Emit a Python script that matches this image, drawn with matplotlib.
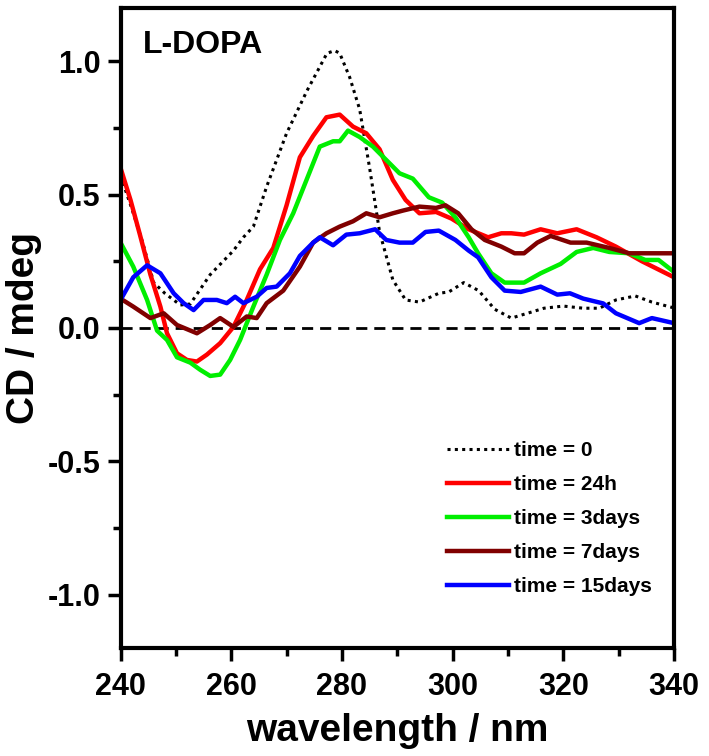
import matplotlib
matplotlib.use('Agg')
import matplotlib.pyplot as plt
from matplotlib.ticker import MultipleLocator

plt.rcParams['font.family'] = ['Liberation Sans', 'DejaVu Sans']
plt.rcParams['font.weight'] = 'bold'

# time = 0
wl0 = [240, 242, 244, 246, 248, 250.8, 252.6, 256.2, 260.4, 262.2, 264, 266.4, 270, 273.7,
       277.3, 278.7, 279.6, 281.4, 283.2, 285, 286.8, 289.2, 291.5, 294, 297.5, 299.3, 302,
       304.7, 307.6, 310.6, 313.5, 316.5, 320, 323.6, 326.5, 329.5, 333, 336, 340]
cd0 = [0.57, 0.45, 0.32, 0.17, 0.13, 0.086, 0.09, 0.2, 0.29, 0.34, 0.38, 0.53, 0.73, 0.89,
       1.03, 1.04, 1.03, 0.94, 0.82, 0.60, 0.36, 0.18, 0.105, 0.097, 0.13, 0.135, 0.17,
       0.14, 0.07, 0.037, 0.055, 0.074, 0.082, 0.074, 0.074, 0.105, 0.12, 0.097, 0.075]

# time = 24h
wl1 = [240, 241.8, 243.5, 245.4, 247.2, 248.4, 250.2, 252, 253.8, 255.6, 258, 260.4, 262.8,
       265.2, 267.6, 270, 272.4, 274.8, 277.2, 279.6, 282, 284.4, 286.8, 289.2, 291.5, 294,
       297, 299.8, 302.9, 306.4, 308.8, 310.6, 312.9, 315.9, 318.9, 322.4, 326, 329.5,
       334.2, 340]
cd1 = [0.60, 0.48, 0.35, 0.2, 0.08, -0.02, -0.095, -0.12, -0.126, -0.10, -0.057, 0.004,
       0.105, 0.22, 0.30, 0.46, 0.64, 0.72, 0.79, 0.80, 0.755, 0.73, 0.67, 0.555, 0.48,
       0.43, 0.435, 0.41, 0.37, 0.34, 0.355, 0.355, 0.35, 0.37, 0.355, 0.37, 0.34, 0.305,
       0.25, 0.19]

# time = 3days
wl2 = [240, 242.3, 244.8, 246.6, 248.4, 250.2, 252.6, 254.4, 256.2, 258, 259.8, 261.6, 264,
       266.4, 268.8, 271.2, 273.6, 276, 278.4, 279.6, 281.1, 283.2, 285.6, 288, 290.4, 292.8,
       295.7, 298.1, 300.5, 302.9, 304.6, 307, 309.4, 312.9, 315.9, 319.5, 322.4, 325.4,
       328.3, 331.9, 334.8, 337.2, 340]
cd2 = [0.32, 0.23, 0.105, -0.01, -0.045, -0.11, -0.13, -0.157, -0.18, -0.175, -0.12, -0.045,
       0.08, 0.2, 0.33, 0.43, 0.555, 0.68, 0.70, 0.70, 0.74, 0.716, 0.68, 0.63, 0.58, 0.56,
       0.49, 0.47, 0.415, 0.34, 0.28, 0.205, 0.17, 0.17, 0.205, 0.24, 0.285, 0.30, 0.285,
       0.28, 0.255, 0.255, 0.21]

# time = 7days
wl3 = [240, 242.3, 245.4, 247.8, 250.2, 253.8, 256.2, 258, 260.4, 262.8, 264.6, 266.4, 269.4,
       272.4, 274.8, 277.2, 279.6, 282, 284.4, 286.8, 289.2, 291, 294, 297, 298.7, 301, 303.4,
       305.8, 308.8, 311.2, 312.9, 315.3, 317.7, 321.3, 324.2, 328.3, 331.9, 335.5, 340]
cd3 = [0.11, 0.08, 0.037, 0.055, 0.011, -0.02, 0.011, 0.037, 0.004, 0.043, 0.037, 0.093, 0.14,
       0.23, 0.32, 0.355, 0.38, 0.40, 0.43, 0.415, 0.43, 0.44, 0.455, 0.45, 0.46, 0.43, 0.37,
       0.33, 0.305, 0.28, 0.28, 0.32, 0.345, 0.32, 0.32, 0.30, 0.28, 0.28, 0.28]

# time = 15days
wl4 = [240, 242.3, 244.8, 247.2, 249.6, 251.4, 253.2, 255, 257.4, 259.2, 260.7, 262.2, 264.6,
       266.4, 268.2, 270.6, 272.4, 274.8, 276, 278.4, 280.8, 283.2, 286, 288, 290.4, 292.8,
       295.1, 297.5, 300.5, 302.9, 304.6, 307, 309.4, 312.3, 315.9, 318.9, 321.2, 323.6,
       327.2, 329.5, 333.7, 336, 340]
cd4 = [0.105, 0.19, 0.235, 0.205, 0.13, 0.093, 0.067, 0.105, 0.105, 0.093, 0.117, 0.093,
       0.117, 0.15, 0.155, 0.205, 0.27, 0.32, 0.34, 0.31, 0.35, 0.355, 0.37, 0.33, 0.32, 0.32,
       0.36, 0.365, 0.33, 0.29, 0.265, 0.19, 0.14, 0.135, 0.155, 0.125, 0.13, 0.11, 0.092,
       0.055, 0.018, 0.037, 0.018]

labels = ['time = 0', 'time = 24h', 'time = 3days', 'time = 7days', 'time = 15days']

fig = plt.figure(figsize=(7.09, 7.56), dpi=100)
ax = fig.add_axes([0.170, 0.1429, 0.7807, 0.8466])

ax.axhline(0, color='black', lw=2, ls=(0, (4, 2.5)), zorder=1)
ax.plot(wl0, cd0, color='black', lw=2.2, ls=(0, (1, 1.4)), label=labels[0])
ax.plot(wl1, cd1, color='#ff0000', lw=3.2, label=labels[1])
ax.plot(wl2, cd2, color='#00ee00', lw=3.2, label=labels[2])
ax.plot(wl3, cd3, color='#800000', lw=3.2, label=labels[3])
ax.plot(wl4, cd4, color='#0000ff', lw=3.2, label=labels[4])

ax.set_xlim(240, 340)
ax.set_ylim(-1.2, 1.2)
ax.xaxis.set_major_locator(MultipleLocator(20))
ax.xaxis.set_minor_locator(MultipleLocator(10))
ax.yaxis.set_major_locator(MultipleLocator(0.5))
ax.yaxis.set_minor_locator(MultipleLocator(0.25))
ax.yaxis.set_major_formatter(plt.FuncFormatter(lambda v, p: '%.1f' % v))

for s in ax.spines.values():
    s.set_linewidth(3)
ax.tick_params(which='major', direction='out', length=9.5, width=2.5, pad=5, labelsize=22)
ax.tick_params(which='minor', direction='out', length=5.5, width=2.5)
ax.tick_params(axis='x', which='major', pad=8)
for t in ax.get_xticklabels() + ax.get_yticklabels():
    t.set_weight('bold')

ax.set_xlabel('wavelength / nm', fontsize=28, fontweight='bold', labelpad=8)
ax.set_ylabel('CD / mdeg', fontsize=28, fontweight='bold', labelpad=4)

ax.text(0.04, 0.966, 'L-DOPA', transform=ax.transAxes, fontsize=23, fontweight='bold',
        va='top', ha='left')

leg = ax.legend(loc='upper left', bbox_to_anchor=(0.589, 0.323), frameon=False,
                fontsize=15, handlelength=3.0, handletextpad=0.25, labelspacing=0.72,
                borderpad=0, borderaxespad=0)
for t in leg.get_texts():
    t.set_weight('bold')

fig.savefig('out.png', dpi=100)
